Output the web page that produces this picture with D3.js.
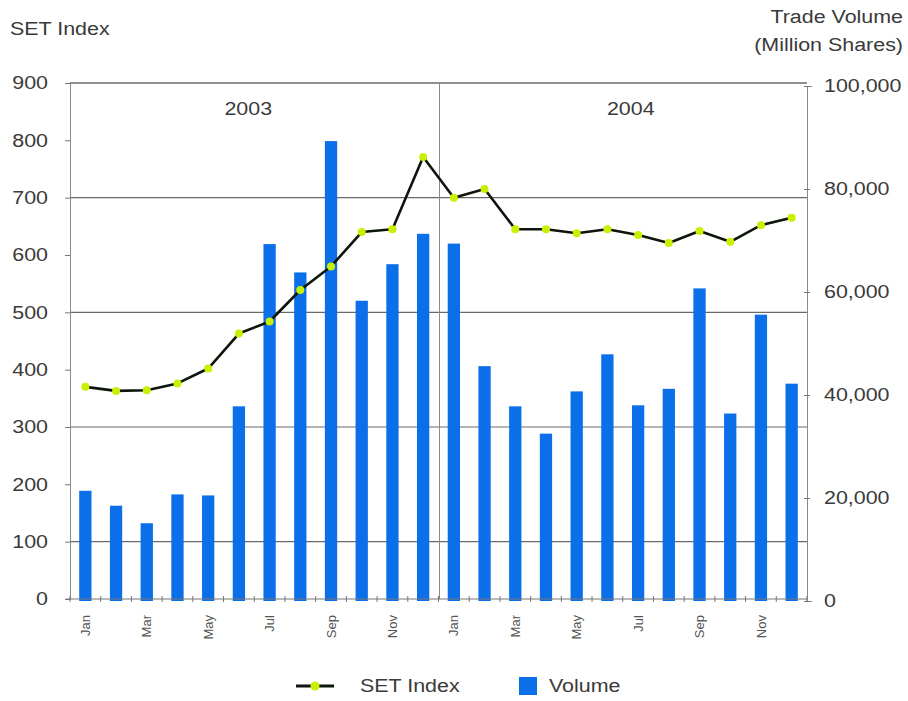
<!DOCTYPE html>
<html><head><meta charset="utf-8">
<script src="https://cdn.jsdelivr.net/npm/d3@7"></script>
<style>body{margin:0;background:#fff;}text{font-family:"Liberation Sans",Arial,sans-serif;}</style>
</head><body>
<svg id="c" width="908" height="701"></svg>
<script>
const months = ["Jan","Feb","Mar","Apr","May","Jun","Jul","Aug","Sep","Oct","Nov","Dec"];
const years = ["2003","2004"];
const setIndex = [370,363,364,376,402,463,484,539,580,640,645,771,
                  700,715,645,645,638,645,635,621,642,623,652,665];
const volume = [21400,18500,15100,20700,20500,37800,69300,63800,89300,58300,65400,71300,
                69400,45600,37800,32500,40700,47900,38000,41200,60700,36400,55600,42200];
const leftTicks = [0,100,200,300,400,500,600,700,800,900];
const rightTicks = [0,20000,40000,60000,80000,100000];
const gridValues = [100,300,500,700,900];

const categories = [];
years.forEach(y => months.forEach(m => categories.push(y + "-" + m)));

const svg = d3.select("#c");
const L = 70, R = 807;
const x = d3.scaleBand().domain(categories).range([L, R]).paddingInner(0.6).paddingOuter(0.3);
const yL = d3.scaleLinear().domain([0, 900]).range([599, 83]);
const yR = d3.scaleLinear().domain([0, 100000]).range([601, 86]);
const txt = "#3a3a3a";
const FONT = "'Liberation Sans', Arial, sans-serif";
const FS = 18, STRETCH = 1.19;
function stretch(sel, k) {
  sel.each(function () {
    const w = this.getComputedTextLength();
    d3.select(this).attr("textLength", w * k).attr("lengthAdjust", "spacingAndGlyphs");
  });
}

// gridlines
svg.append("g").selectAll("line").data(gridValues).join("line")
  .attr("x1", L).attr("x2", R).attr("y1", d => yL(d)).attr("y2", d => yL(d))
  .attr("stroke", "#6a6a6a").attr("stroke-width", 1.2);
// year divider
const xb = d3.scaleLinear().domain([0, categories.length]).range([L, R]);
svg.append("line").attr("x1", xb(12) + 1).attr("x2", xb(12) + 1).attr("y1", yL(900)).attr("y2", yL(0))
  .attr("stroke", "#8a8a8a").attr("stroke-width", 1);

const texts = [];
// year labels
years.forEach((yv, i) => {
  texts.push(svg.append("text").attr("x", (xb(i*12) + xb(i*12+12)) / 2 + (i ? 8 : -6)).attr("y", 115)
    .attr("text-anchor", "middle").attr("font-size", FS).attr("fill", txt).text(yv));
});

// bars
svg.append("g").selectAll("rect").data(volume).join("rect")
  .attr("x", (d, i) => x(categories[i])).attr("width", x.bandwidth())
  .attr("y", d => yR(d)).attr("height", d => yR(0) - yR(d))
  .attr("fill", "#0b6fea");

// left axis
const axL = svg.append("g").attr("transform", `translate(${L},0)`)
  .call(d3.axisLeft(yL).tickValues(leftTicks).tickSize(5).tickPadding(17).tickFormat(d3.format("d")));
axL.select(".domain").attr("stroke", "#8a8a8a");
axL.selectAll(".tick line").attr("stroke", "#777");
axL.selectAll("text").attr("font-size", FS).attr("fill", txt).attr("font-family", FONT);
texts.push(axL.selectAll("text"));

// right axis
const axR = svg.append("g").attr("transform", `translate(${R},0)`)
  .call(d3.axisRight(yR).tickValues(rightTicks).tickSize(5).tickPadding(12).tickFormat(d3.format(",")));
axR.select(".domain").attr("stroke", "#8a8a8a");
axR.selectAll(".tick line").attr("stroke", "#777").attr("transform", "translate(-3,0)").attr("x2", 6);
axR.selectAll("text").attr("font-size", FS).attr("fill", txt).attr("font-family", FONT);
texts.push(axR.selectAll("text"));

// top border
svg.append("line").attr("x1", L).attr("x2", R).attr("y1", yL(900)).attr("y2", yL(900))
  .attr("stroke", "#6a6a6a").attr("stroke-width", 1.2);

// bottom axis with ticks at band boundaries
const bottom = svg.append("g");
bottom.append("line").attr("x1", L - 4).attr("x2", R).attr("y1", yL(0)).attr("y2", yL(0))
  .attr("stroke", "#777").attr("stroke-width", 1.2);
bottom.selectAll("line.t").data(d3.range(categories.length + 1)).join("line").attr("class", "t")
  .attr("x1", d => xb(d)).attr("x2", d => xb(d)).attr("y1", yL(0) - 3).attr("y2", yL(0) + 3)
  .attr("stroke", "#777");
const xAx = svg.append("g").attr("transform", `translate(0,${yL(0)})`)
  .call(d3.axisBottom(x).tickValues(categories.filter((c, i) => i % 2 === 0)).tickSize(0)
    .tickFormat(d => d.split("-")[1]));
xAx.select(".domain").remove();
xAx.selectAll("text").attr("font-size", 13).attr("fill", "#555")
  .attr("font-family", FONT)
  .attr("transform", "rotate(-90)").attr("text-anchor", "end")
  .attr("x", -16).attr("y", 0).attr("dy", "0.35em");

// line
const line = d3.line().x((d, i) => x(categories[i]) + x.bandwidth() / 2).y(d => yL(d));
svg.append("path").datum(setIndex).attr("d", line).attr("fill", "none")
  .attr("stroke", "#0d160a").attr("stroke-width", 2.6).attr("stroke-linejoin", "round");
svg.append("g").selectAll("circle").data(setIndex).join("circle")
  .attr("cx", (d, i) => x(categories[i]) + x.bandwidth() / 2).attr("cy", d => yL(d))
  .attr("r", 4).attr("fill", "#c8f000");

// axis titles
texts.push(svg.append("text").attr("x", 10).attr("y", 35).attr("font-size", FS).attr("fill", txt).text("SET Index"));
texts.push(svg.append("text").attr("x", 903).attr("y", 23).attr("text-anchor", "end").attr("font-size", FS).attr("fill", txt).text("Trade Volume"));
texts.push(svg.append("text").attr("x", 903).attr("y", 51).attr("text-anchor", "end").attr("font-size", FS).attr("fill", txt).text("(Million Shares)"));

// legend
const lg = svg.append("g");
lg.append("line").attr("x1", 296).attr("x2", 334).attr("y1", 686).attr("y2", 686)
  .attr("stroke", "#0d160a").attr("stroke-width", 3);
lg.append("circle").attr("cx", 315).attr("cy", 686).attr("r", 4.5).attr("fill", "#c8f000");
texts.push(lg.append("text").attr("x", 360).attr("y", 692).attr("font-size", FS).attr("fill", txt).text("SET Index"));
lg.append("rect").attr("x", 519).attr("y", 677).attr("width", 18).attr("height", 18).attr("fill", "#0b6fea");
texts.push(lg.append("text").attr("x", 549).attr("y", 692).attr("font-size", FS).attr("fill", txt).text("Volume"));

texts.forEach(t => stretch(t, STRETCH));
</script>
</body></html>
